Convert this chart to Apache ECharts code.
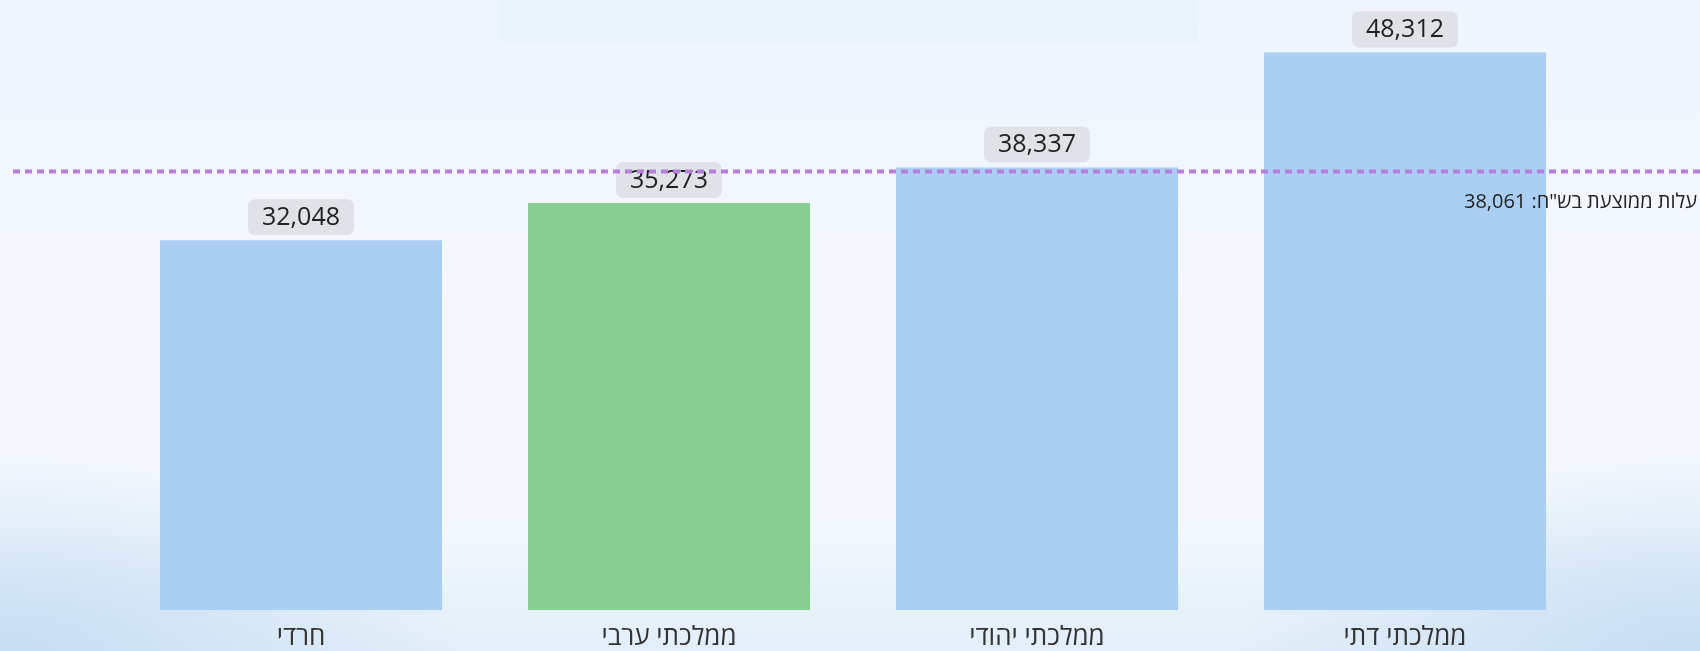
<!DOCTYPE html>
<html>
<head>
<meta charset="utf-8" />
<script src="https://cdn.jsdelivr.net/npm/echarts@6/dist/echarts.min.js"></script>
<style>
  html, body {
    margin: 0;
    padding: 0;
  }
  body {
    width: 1700px;
    height: 651px;
    overflow: hidden;
    background:
      radial-gradient(ellipse 460px 200px at 0% 100%, #c6ddf3 0%, rgba(198, 221, 243, 0) 100%),
      radial-gradient(ellipse 460px 200px at 100% 100%, #c6ddf3 0%, rgba(198, 221, 243, 0) 100%),
      linear-gradient(to bottom, #eef5fd 0%, #f4f8fe 45%, #f3f8fd 80%, #e2eef9 100%);
  }
  .panel {
    position: absolute;
    left: 499px;
    top: 0;
    width: 699px;
    height: 43px;
    background: #e9f4fd;
  }
  #chart {
    position: absolute;
    left: 0;
    top: 0;
    width: 1700px;
    height: 651px;
  }
</style>
</head>
<body>
<div class="panel"></div>
<div id="chart"></div>
<script>
// נתונים
const categories = ['חרדי', 'ממלכתי ערבי', 'ממלכתי יהודי', 'ממלכתי דתי']
const costs = [32048, 35273, 38337, 48312]
const average = 38061
const highlightIndex = 1 // העמודה הירוקה
const yMax = 50000

const fmt = (v) => v.toLocaleString('en-US')

let mycharts = echarts.init(document.getElementById('chart'))
mycharts.setOption({
  animation: false,
  grid: [
    // גריד העמודות
    { left: 117, right: 111, top: 33, bottom: 38 },
    // גריד לקו הממוצע על כל הרוחב
    { left: 13, right: 0, top: 33, bottom: 38 },
  ],
  xAxis: [
    {
      type: 'category',
      gridIndex: 0,
      data: categories,
      axisLine: { show: false },
      axisTick: { show: false },
      axisLabel: {
        color: '#333',
        fontSize: 26,
        fontFamily: 'Open Sans, DejaVu Sans, sans-serif',
        margin: 15,
      },
    },
    { type: 'value', gridIndex: 1, min: 0, max: 1, show: false },
  ],
  yAxis: [
    { type: 'value', gridIndex: 0, min: 0, max: yMax, show: false },
    { type: 'value', gridIndex: 1, min: 0, max: yMax, show: false },
  ],
  series: [
    {
      type: 'bar',
      xAxisIndex: 0,
      yAxisIndex: 0,
      barWidth: 282,
      data: costs.map((v, i) => ({
        value: v,
        itemStyle: { color: i === highlightIndex ? '#87cc91' : '#aacff3' },
      })),
      label: {
        show: true,
        position: 'top',
        distance: 5,
        formatter: (p) => fmt(p.value),
        color: '#222',
        fontSize: 25,
        fontFamily: 'Open Sans, sans-serif',
        backgroundColor: '#dfe3e8',
        borderRadius: 7,
        padding: [6, 14, 5, 14],
      },
      z: 2,
    },
    {
      // קו הממוצע
      type: 'line',
      xAxisIndex: 1,
      yAxisIndex: 1,
      data: [[0, average], [1, average]],
      symbol: 'none',
      lineStyle: { color: '#b67fd9', width: 4, type: [7, 5] },
      endLabel: {
        show: true,
        formatter: () => 'עלות ממוצעת בש"ח: ' + fmt(average),
        align: 'right',
        distance: 0,
        offset: [-3, 31],
        color: '#222',
        fontSize: 20,
        fontFamily: 'Open Sans, DejaVu Sans, sans-serif',
      },
      z: 3,
    },
  ],
})
</script>
</body>
</html>
